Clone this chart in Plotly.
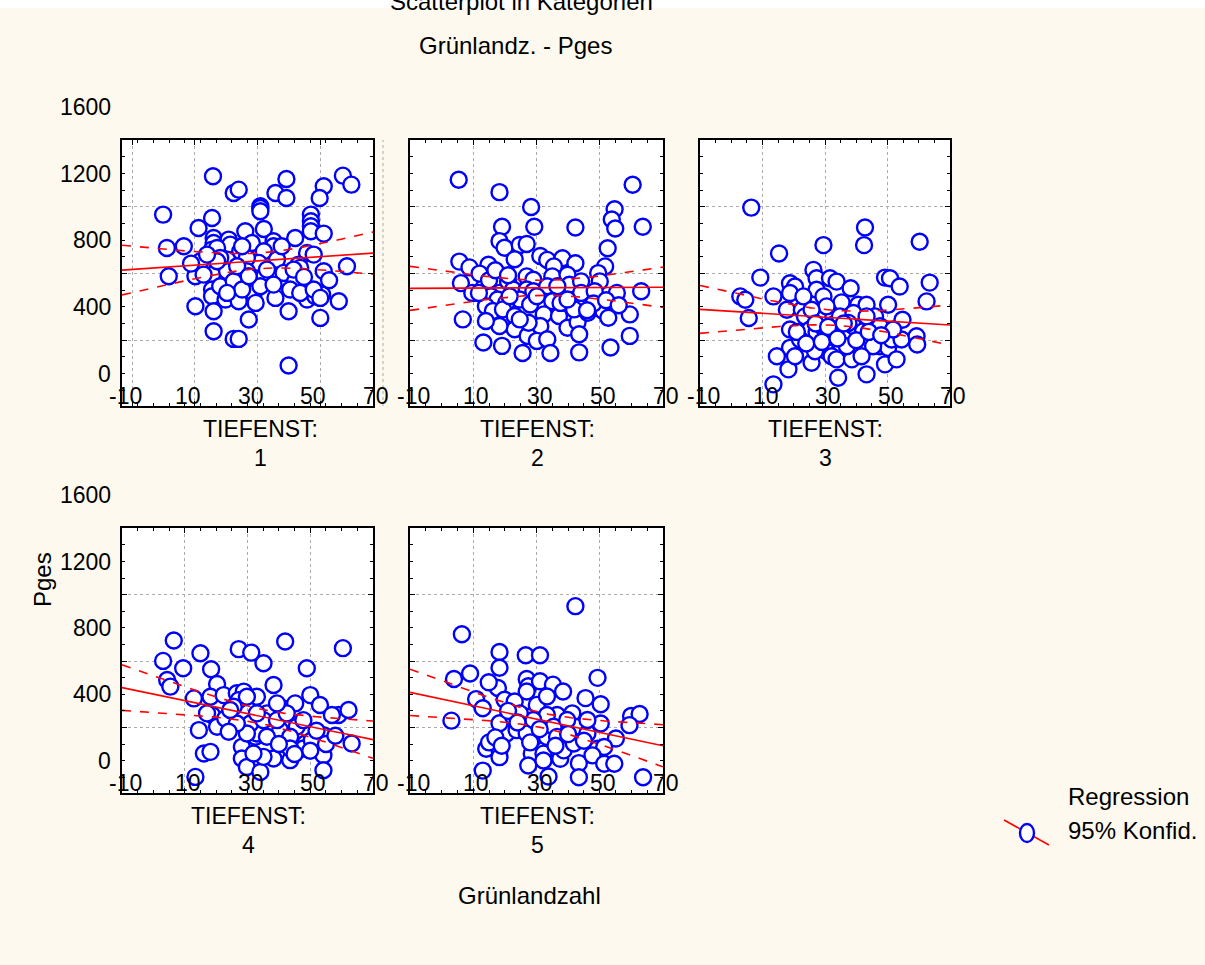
import numpy as np
import plotly.graph_objects as go

# Grünlandzahl (x) and Pges (y) for each TIEFENST category
x1 = [19.0, 25.6, 27.2, 38.9, 42.4, 42.4, 34.1, 34.1, 34.1, 54.3, 53.0, 60.4, 63.1, 3.1, 18.7, 14.4, 50.2, 50.2, 50.2, 50.2,
      54.3, 29.3, 35.2, 45.2, 19.2, 19.2, 24.0, 24.5, 31.4, 38.3, 38.3, 9.7, 4.3, 18.7, 20.3, 27.7, 35.2, 49.0, 51.1, 15.0,
      23.5, 33.6, 39.4, 46.3, 46.8, 61.7, 4.9, 13.4, 18.7, 23.5, 27.2, 35.4, 41.5, 45.2, 54.3, 18.7, 18.7, 23.0, 27.2, 32.0,
      38.9, 49.0, 51.6, 53.8, 59.1, 13.4, 19.2, 43.1, 30.4, 53.2, 19.2, 25.6, 27.2, 43.1, 21.3, 29.8, 36.2, 29.8, 21.3, 25.6,
      34.1, 38.3, 43.6, 44.7, 16.0, 28.3, 23.5, 32.6, 46.8, 20.3, 26.7, 51.1, 53.2, 17.1, 40.9, 28.3, 30.4, 56.0, 48.0, 12.0]
y1 = [1184, 1084, 1104, 1084, 1168, 1054, 1004, 994, 974, 1124, 1054, 1188, 1134, 954, 934, 874, 954, 914, 884, 854,
      840, 854, 868, 814, 814, 784, 804, 774, 784, 794, 764, 764, 754, 744, 754, 734, 734, 724, 714, 674,
      684, 664, 684, 654, 634, 644, 584, 584, 594, 614, 554, 584, 604, 554, 614, 504, 464, 444, 434, 484,
      454, 444, 464, 474, 434, 404, 374, 374, 324, 334, 254, 208, 208, 48, 694, 694, 624, 614, 524, 554,
      524, 534, 504, 624, 594, 504, 484, 424, 484, 674, 644, 504, 454, 714, 764, 764, 584, 560, 580, 660]

x2 = [5.4, 18.3, 28.3, 60.4, 54.7, 53.8, 54.9, 63.6, 19.1, 29.3, 42.3, 18.3, 19.9, 24.7, 26.9, 52.5, 5.6, 8.8, 14.8, 23.1,
      31.2, 33.4, 38.2, 42.3, 51.7, 6.1, 9.7, 13.2, 18.3, 18.3, 21.0, 26.9, 29.0, 35.5, 35.0, 39.8, 40.4, 44.1, 49.5, 50.0,
      55.4, 63.1, 15.6, 17.7, 22.6, 26.9, 29.0, 33.4, 36.6, 24.7, 28.0, 35.0, 44.1, 48.4, 49.5, 51.1, 52.7, 6.7, 14.0, 16.2,
      20.4, 19.4, 23.1, 23.1, 18.3, 14.0, 32.3, 37.1, 39.8, 31.2, 27.2, 30.1, 33.4, 43.0, 43.5, 59.5, 59.5, 13.2, 19.1, 25.6,
      34.4, 43.5, 53.4, 27.5, 24.7, 37.6, 41.9, 46.2, 11.8, 15.0, 21.5, 30.1, 39.8,
      12.0, 15.0, 17.0, 21.0, 48.0, 52.0, 56.0, 46.0]
y2 = [1163, 1089, 1000, 1133, 986, 925, 871, 881, 881, 881, 877, 795, 755, 772, 778, 752, 672, 637, 653, 686,
      706, 682, 692, 662, 643, 543, 484, 514, 543, 484, 553, 583, 563, 643, 583, 593, 533, 553, 603, 553,
      484, 494, 464, 444, 504, 504, 494, 524, 524, 444, 414, 434, 484, 494, 404, 375, 335, 325, 404, 375,
      424, 385, 345, 266, 285, 315, 355, 345, 275, 285, 226, 196, 206, 309, 236, 355, 226, 186, 166, 123,
      123, 127, 156, 305, 325, 424, 385, 365, 484, 583, 464, 464, 444,
      600, 560, 620, 590, 420, 440, 410, 380]

x3 = [6.4, 42.8, 42.5, 60.3, 29.5, 15.3, 9.3, 49.2, 50.8, 63.5, 62.5, 53.9, 2.9, 4.5, 5.6, 13.5, 18.8, 20.4, 18.8, 17.8,
      18.8, 18.8, 18.3, 26.3, 27.3, 27.3, 31.6, 33.7, 29.5, 35.3, 38.2, 40.6, 43.3, 46.0, 50.2, 22.6, 23.6, 25.2, 27.3, 29.9,
      32.7, 32.7, 35.9, 39.1, 42.2, 47.6, 50.2, 51.3, 54.5, 54.8, 59.3, 59.5, 14.6, 20.4, 25.7, 30.5, 32.1, 33.7, 34.2, 38.6,
      43.3, 49.2, 52.9, 13.5, 45.4, 41.7, 37.0, 26.8, 22.0, 30.5, 23.1, 30.5, 34.8, 39.1, 47.6, 51.8, 43.3, 37.5, 25.7,
      21.0, 24.0, 27.0, 29.0, 31.0, 34.0, 36.0, 40.0, 44.0, 48.0]
y3 = [996, 877, 771, 791, 771, 721, 576, 576, 572, 546, 433, 522, 463, 443, 333, 463, 542, 522, 483, 383,
      264, 154, 25, 622, 572, 503, 572, 552, 463, 427, 512, 413, 413, 343, 413, 383, 343, 264, 248, 264,
      343, 294, 244, 284, 254, 164, 154, 204, 204, 323, 224, 174, 104, 104, 65, 134, 104, 85, -25, 85,
      -5, 55, 85, -65, 164, 104, 164, 134, 204, 224, 463, 403, 343, 363, 284, 264, 343, 304, 383,
      250, 180, 300, 190, 280, 210, 300, 200, 250, 230]

x4 = [6.5, 3.1, 9.5, 4.4, 5.4, 15.0, 27.2, 31.2, 35.1, 42.0, 60.4, 48.9, 18.4, 20.3, 12.9, 18.2, 22.4, 26.6, 28.8, 27.2,
      33.0, 38.3, 41.3, 45.2, 50.0, 53.1, 59.0, 62.2, 14.5, 16.1, 18.2, 13.4, 18.7, 20.3, 22.9, 25.6, 28.2, 28.2, 29.8, 34.1,
      32.5, 33.0, 36.2, 38.3, 43.6, 40.4, 45.7, 48.4, 47.8, 54.2, 54.2, 54.2, 63.2, 30.9, 35.1, 29.8, 36.2, 39.4, 43.6, 50.5,
      26.6, 24.0, 42.5, 17.1, 33.0, 24.5, 29.8, 39.4, 47.8, 56.9, 35.1, 31.9, 43.6,
      50.0, 55.0, 58.0, 45.0, 40.0, 52.0]
y4 = [724, 601, 557, 486, 446, 647, 672, 651, 587, 718, 678, 557, 551, 462, 375, 385, 395, 406, 416, 365,
      385, 456, 315, 345, 395, 335, 275, 305, 184, 43, 53, -98, 275, 204, 254, 325, 83, 13, -38, -68,
      144, 164, 285, 13, 3, 184, 204, 103, 73, 33, -58, 154, 103, 224, 244, 164, 144, 244, 144, 123,
      224, 174, 285, 285, 285, 305, 385, 345, 244, 275, 23, 43, 73,
      60, 100, 150, 40, 100, 180]

x5 = [42.3, 6.4, 18.3, 18.3, 17.8, 26.6, 31.1, 3.9, 9.0, 14.9, 26.9, 27.4, 26.9, 31.1, 35.2, 38.4, 49.3, 45.5, 50.3, 10.9,
      13.0, 3.1, 19.9, 23.1, 30.1, 33.3, 41.3, 36.5, 42.3, 50.3, 59.9, 62.6, 59.4, 55.1, 46.1, 49.3, 51.4, 14.1, 18.3, 18.3,
      13.0, 20.5, 23.7, 28.5, 27.4, 29.5, 33.3, 32.2, 32.2, 33.8, 37.5, 38.6, 43.4, 43.4, 47.7, 51.4, 54.6, 63.7, 33.3, 26.9,
      18.3, 22.6, 35.4, 39.7, 46.1, 26.9, 36.5, 41.8, 29.0, 24.7,
      15.0, 17.0, 19.0, 21.0, 24.0, 28.0, 31.0, 36.0, 40.0, 45.0]
y5 = [931, 762, 655, 560, 438, 635, 635, 492, 525, 472, 492, 448, 417, 478, 458, 417, 499, 377, 340, 371,
      316, 241, 367, 356, 336, 387, 285, 275, 204, 224, 269, 281, 214, 133, 164, 72, 82, 72, 62, 21,
      -60, 164, 184, 42, -29, 143, 143, 42, 1, -96, 11, 62, -15, -100, 32, -19, -19, -100, 275, 265,
      225, 265, 204, 245, 245, 164, 143, 103, 245, 285,
      110, 140, 90, 300, 230, 110, 190, 90, 160, 120]

categories = ["1", "2", "3", "4", "5"]
series = [(x1, y1), (x2, y2), (x3, y3), (x4, y4), (x5, y5)]

x_ticks = [-10, 10, 30, 50, 70]
y_ticks = [0, 400, 800, 1200, 1600]

W, H = 1205, 965
BG = "#FDF9EE"
FONT = "Liberation Sans, Arial, sans-serif"
FS = 24      # titles and legend
FS_S = 23    # tick labels and captions


def px(v):
    return v / W


def py(v):
    return 1 - v / H


def tfont(small=True):
    return dict(family=FONT, size=FS_S if small else FS, color="black")


# panel frames in pixels: (left, right), (top, bottom)
cols = [(122, 373), (410, 663), (700, 950)]
rows = [(140, 406), (528, 793)]
frames = [(cols[0], rows[0]), (cols[1], rows[0]), (cols[2], rows[0]),
          (cols[0], rows[1]), (cols[1], rows[1])]
label_cx = [260, 537, 825, 249, 537]

XR = [-10, 70]
YR = [-195, 1402]

fig = go.Figure()
layout = dict(
    width=W, height=H, margin=dict(l=0, r=0, t=0, b=0, pad=0),
    paper_bgcolor=BG, plot_bgcolor="white", showlegend=False,
)

annotations = []
shapes = []

for i, ((xl, xr), (yt, yb)) in enumerate(frames):
    n = i + 1
    xa = "x" if n == 1 else f"x{n}"
    ya = "y" if n == 1 else f"y{n}"
    xs, ys = np.array(series[i][0], float), np.array(series[i][1], float)
    ydom = [py(yb), py(yt)]

    # grid positions (first panel draws its vertical grid shifted)
    xgrid = [-6.8, 13.2, 33.2, 53.2] if n == 1 else [10, 30, 50]

    axis_common = dict(
        showline=True, linecolor="black", linewidth=2, mirror="ticks",
        ticks="inside", ticklen=5, tickcolor="black", tickwidth=1,
        showticklabels=False, showgrid=True, gridcolor="#ababab",
        griddash="dot", gridwidth=1, zeroline=False, fixedrange=True,
    )
    layout["xaxis" if n == 1 else f"xaxis{n}"] = dict(
        axis_common, domain=[px(xl), px(xr)], range=XR, tickmode="array",
        tickvals=xgrid, anchor=ya,
        minor=dict(ticks="inside", ticklen=3, tickcolor="black", tick0=-10, dtick=5, showgrid=False),
    )
    layout["yaxis" if n == 1 else f"yaxis{n}"] = dict(
        axis_common, domain=ydom, range=YR, tickmode="array",
        tickvals=[200, 600, 1000], anchor=xa,
        minor=dict(ticks="inside", ticklen=3, tickcolor="black", tick0=0, dtick=100, showgrid=False),
    )

    fig.add_trace(go.Scatter(
        x=xs, y=ys, mode="markers", xaxis=xa, yaxis=ya,
        marker=dict(symbol="circle", size=16, color="white",
                    line=dict(color="#0000FF", width=2.4)),
        hoverinfo="skip",
    ))

    # linear regression with 95% confidence band of the mean
    b, a = np.polyfit(xs, ys, 1)
    nn = len(xs)
    resid = ys - (a + b * xs)
    s = np.sqrt(np.sum(resid ** 2) / (nn - 2))
    sxx = np.sum((xs - xs.mean()) ** 2)
    t = 1.985
    gx = np.linspace(XR[0], XR[1], 161)
    fit = a + b * gx
    half = t * s * np.sqrt(1 / nn + (gx - xs.mean()) ** 2 / sxx)
    for yy, dash in ((fit, "solid"), (fit + half, "dash"), (fit - half, "dash")):
        fig.add_trace(go.Scatter(
            x=gx, y=yy, mode="lines", xaxis=xa, yaxis=ya,
            line=dict(color="#FF0000", width=1.6, dash=dash),
            hoverinfo="skip",
        ))

    # tick labels
    for v in x_ticks:
        annotations.append(dict(
            x=v, xref=xa, y=py(yb), yref="paper", text=str(v), showarrow=False,
            xanchor="center", yanchor="bottom", yshift=-5, xshift=3,
            font=tfont(),
        ))
    if n in (1, 4):
        for v in y_ticks:
            yp = ydom[0] + (v - YR[0]) / (YR[1] - YR[0]) * (ydom[1] - ydom[0])
            annotations.append(dict(
                x=px(113), xref="paper", y=yp, yref="paper", text=str(v), showarrow=False,
                xanchor="right", yanchor="middle", font=tfont(),
            ))

    # category caption below each panel
    annotations.append(dict(
        x=px(label_cx[i]), xref="paper", y=py(yb + 23), yref="paper",
        text="TIEFENST:", showarrow=False, xanchor="center", yanchor="middle",
        font=tfont(),
    ))
    annotations.append(dict(
        x=px(label_cx[i]), xref="paper", y=py(yb + 52), yref="paper",
        text=categories[i], showarrow=False, xanchor="center", yanchor="middle",
        font=tfont(),
    ))

# stray vertical grid line right of the first panel
shapes.append(dict(type="line", xref="paper", yref="paper",
                   x0=px(383), x1=px(383), y0=py(406), y1=py(140),
                   line=dict(color="#ababab", width=1, dash="dot")))

# white strip along the top edge
shapes.append(dict(type="rect", xref="paper", yref="paper", layer="below",
                   x0=0, x1=1, y0=py(8), y1=1.02, line=dict(width=0), fillcolor="white"))

# titles
annotations.append(dict(x=px(521), y=py(1), xref="paper", yref="paper",
                        text="Scatterplot in Kategorien", showarrow=False,
                        xanchor="center", yanchor="middle", font=tfont(False)))
annotations.append(dict(x=px(515), y=py(46), xref="paper", yref="paper",
                        text="Grünlandz. - Pges", showarrow=False,
                        xanchor="center", yanchor="middle", font=tfont(False)))
annotations.append(dict(x=px(529), y=py(895), xref="paper", yref="paper",
                        text="Grünlandzahl", showarrow=False,
                        xanchor="center", yanchor="middle", font=tfont(False)))
annotations.append(dict(x=px(42), y=py(580), xref="paper", yref="paper",
                        text="Pges", showarrow=False, textangle=-90,
                        xanchor="center", yanchor="middle", font=tfont(False)))

# legend
shapes.append(dict(type="line", xref="paper", yref="paper",
                   x0=px(1004), y0=py(820), x1=px(1049), y1=py(845),
                   line=dict(color="#FF0000", width=1.6)))
shapes.append(dict(type="circle", xref="paper", yref="paper",
                   x0=px(1020), x1=px(1034), y0=py(842), y1=py(824),
                   line=dict(color="#0000FF", width=2.4), fillcolor="white"))
annotations.append(dict(x=px(1066), y=py(796), xref="paper", yref="paper",
                        text="Regression", showarrow=False,
                        xanchor="left", yanchor="middle", font=tfont(False)))
annotations.append(dict(x=px(1066), y=py(830), xref="paper", yref="paper",
                        text="95% Konfid.", showarrow=False,
                        xanchor="left", yanchor="middle", font=tfont(False)))

layout["annotations"] = annotations
layout["shapes"] = shapes
fig.update_layout(**layout)
fig.write_html("out.html")
